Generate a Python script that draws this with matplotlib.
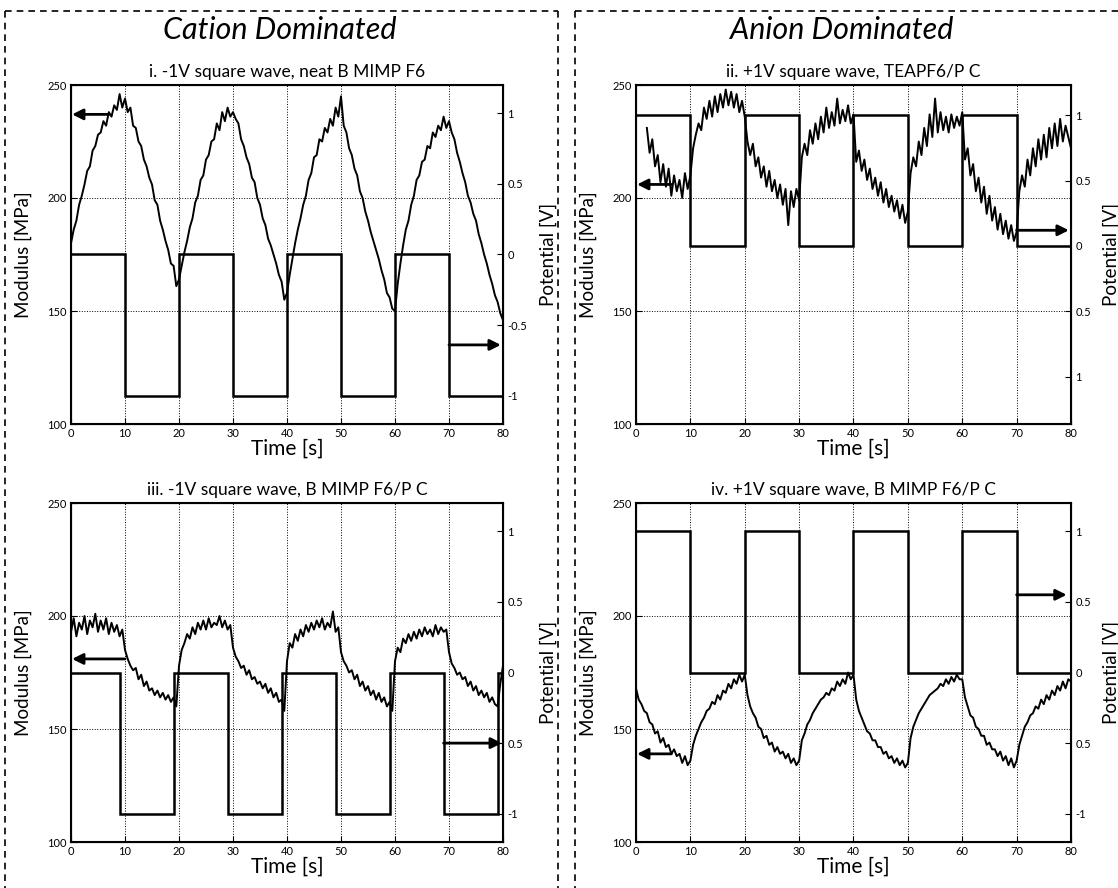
import numpy as np
import matplotlib.pyplot as plt
from matplotlib.lines import Line2D

plt.rcParams['font.family'] = ['Lato', 'DejaVu Sans']
plt.rcParams['axes.unicode_minus'] = False

# sampling grid of the modulus traces [s]
t = np.arange(0, 80.5, 0.5)

# modulus [MPa], every 0.5 s
mod_i = [180, 186, 190, 197, 201, 206, 212, 214, 221, 223, 228, 229, 234, 232, 238, 236, 241, 239, 246, 240,
         244, 238, 240, 232, 231, 225, 223, 217, 214, 209, 206, 199, 197, 190, 186, 181, 177, 171, 170, 161,
         164, 170, 176, 181, 187, 191, 198, 201, 208, 210, 217, 219, 225, 226, 233, 230, 238, 234, 240, 236,
         238, 235, 233, 226, 223, 218, 215, 209, 207, 200, 197, 191, 188, 182, 179, 175, 171, 166, 163, 155,
         158, 166, 173, 180, 186, 191, 197, 201, 208, 211, 218, 219, 226, 225, 231, 229, 235, 232, 240, 236,
         245, 232, 229, 222, 219, 213, 210, 203, 200, 194, 190, 185, 181, 177, 173, 168, 164, 158, 156, 151,
         150, 162, 171, 179, 186, 190, 197, 201, 208, 210, 216, 217, 223, 222, 229, 227, 232, 230, 236, 231,
         234, 229, 226, 220, 216, 211, 207, 201, 198, 193, 190, 184, 180, 175, 171, 166, 162, 157, 154, 149,
         146]

mod_ii = [None, None, None, None, 231, 220, 226, 214, 219, 207, 215, 205, 213, 201, 210, 203, 208, 200, 211, 204,
          210, 222, 228, 233, 230, 240, 235, 243, 236, 245, 238, 246, 240, 248, 241, 247, 240, 246, 238, 243,
          236, 225, 219, 224, 214, 218, 209, 214, 205, 212, 203, 208, 200, 206, 197, 204, 188, 203, 196, 204,
          199, 218, 224, 219, 230, 224, 233, 226, 236, 229, 240, 231, 238, 232, 244, 233, 239, 234, 241, 233,
          237, 216, 221, 212, 217, 208, 213, 204, 209, 201, 207, 198, 204, 196, 201, 194, 199, 191, 197, 189,
          194, 211, 218, 214, 225, 219, 231, 223, 237, 227, 244, 229, 238, 230, 236, 229, 237, 231, 236, 232,
          238, 217, 222, 210, 215, 203, 209, 198, 205, 193, 201, 190, 196, 186, 193, 184, 190, 182, 188, 181,
          185, 203, 210, 205, 217, 210, 222, 214, 226, 217, 228, 218, 231, 222, 233, 223, 235, 225, 232, 227,
          222]

mod_iii = [193, 199, 191, 197, 194, 200, 192, 198, 195, 201, 193, 198, 194, 199, 192, 197, 193, 196, 191, 194,
           185, 181, 178, 176, 177, 172, 174, 169, 171, 167, 168, 165, 167, 164, 166, 163, 165, 162, 164, 160,
           178, 185, 188, 192, 190, 195, 192, 197, 194, 198, 194, 199, 195, 197, 196, 200, 195, 198, 194, 196,
           186, 182, 180, 177, 178, 174, 176, 172, 173, 170, 171, 168, 170, 166, 168, 164, 166, 162, 163, 158,
           180, 188, 186, 192, 189, 194, 191, 196, 193, 197, 194, 198, 195, 199, 194, 197, 195, 202, 193, 195,
           184, 180, 178, 175, 176, 172, 174, 169, 171, 167, 169, 165, 167, 163, 166, 162, 164, 160, 162, 158,
           180, 186, 184, 190, 188, 192, 189, 193, 190, 194, 191, 195, 192, 194, 191, 196, 192, 195, 193, 194,
           184, 179, 177, 174, 175, 172, 173, 169, 171, 167, 169, 165, 167, 164, 166, 162, 164, 161, 160, 170,
           178]

mod_iv = [168, 163, 161, 158, 157, 153, 152, 148, 149, 144, 146, 142, 143, 139, 141, 138, 139, 135, 138, 134,
          136, 143, 147, 150, 153, 155, 158, 159, 162, 161, 165, 163, 167, 166, 170, 168, 172, 170, 174, 171,
          174, 165, 160, 157, 155, 151, 150, 146, 147, 143, 144, 140, 142, 139, 140, 137, 139, 135, 137, 134,
          136, 145, 148, 152, 154, 157, 159, 161, 163, 164, 166, 165, 168, 167, 171, 169, 172, 170, 175, 172,
          174, 163, 158, 155, 152, 149, 148, 145, 145, 142, 142, 139, 140, 137, 138, 135, 137, 134, 136, 133,
          135, 146, 151, 154, 157, 159, 161, 163, 165, 166, 167, 168, 170, 169, 172, 170, 173, 171, 174, 172,
          172, 164, 160, 156, 155, 151, 150, 147, 147, 143, 144, 141, 141, 138, 140, 136, 138, 134, 137, 133,
          136, 143, 147, 151, 153, 156, 157, 160, 159, 163, 161, 165, 163, 167, 165, 169, 167, 171, 168, 172,
          171]

# applied square wave potential [V]: switching times and levels
edges_i = [0, 10, 20, 30, 40, 50, 60, 70, 80]
levels_i = [0, -1, 0, -1, 0, -1, 0, -1]
edges_ii = [0, 10, 20, 30, 40, 50, 60, 70, 80]
levels_ii = [1, 0, 1, 0, 1, 0, 1, 0]
edges_iii = [0, 9, 19, 29, 39, 49, 59, 69, 79, 80]
levels_iii = [0, -1, 0, -1, 0, -1, 0, -1, 0]
edges_iv = [0, 10, 20, 30, 40, 50, 60, 70, 80]
levels_iv = [1, 0, 1, 0, 1, 0, 1, 0]

titles = ['i. -1V square wave, neat B MIMP F6',
          'ii. +1V square wave, TEAPF6/P C',
          'iii. -1V square wave, B MIMP F6/P C',
          'iv. +1V square wave, B MIMP F6/P C']

# right axis tick labels as printed (minus signs lost in the scan)
vticks = [-1, -0.5, 0, 0.5, 1]
vlabels = [['-1', '-0.5', '0', '0.5', '1'],
           ['1', '0.5', '0', '0.5', '1'],
           ['-1', '0.5', '0', '0.5', '1'],
           ['-1', '0.5', '0', '0.5', '1']]
vlims = [(-1.2, 1.2), (-1.36, 1.23), (-1.2, 1.2), (-1.2, 1.2)]

# arrows: (modulus y, tail x) pointing left; (potential y, tail x, head x) pointing right
left_arrows = [(237, 7), (206, 6.5), (181, 10), (139, 6.5)]
right_arrows = [(-0.64, 70, 79.6), (0.12, 70, 79.6), (-0.5, 69, 79.8), (0.55, 70, 79.2)]

mods = [mod_i, mod_ii, mod_iii, mod_iv]
edges = [edges_i, edges_ii, edges_iii, edges_iv]
levels = [levels_i, levels_ii, levels_iii, levels_iv]

W, H = 1118, 888
fig = plt.figure(figsize=(W / 100, H / 100), dpi=100)

# panel boxes in pixels: left, top, right, bottom
boxes = [(71, 85, 503, 424), (636, 85, 1071, 424), (71, 503, 503, 842), (636, 503, 1071, 842)]
# x position (axes fraction) of the right-hand label; right column kept inside the figure
vlabel_x = [1.085, 1.072, 1.085, 1.072]

arrow_kw = dict(arrowstyle='-|>', color='k', lw=2, mutation_scale=16, shrinkA=0, shrinkB=0)

for k in range(4):
    l, tp, r, b = boxes[k]
    ax = fig.add_axes([l / W, 1 - b / H, (r - l) / W, (b - tp) / H])
    ax.plot(t, np.array(mods[k], dtype=float), color='k', lw=1.4)
    ax.set_xlim(0, 80)
    ax.set_ylim(100, 250)
    ax.set_xticks(range(0, 81, 10))
    ax.set_yticks([100, 150, 200, 250])
    ax.grid(True, ls=':', color='k', lw=0.7)
    ax.tick_params(direction='in', labelsize=8, length=4, pad=3)
    for s in ax.spines.values():
        s.set_linewidth(1.5)
    ax.set_xlabel('Time [s]', fontsize=15, labelpad=0)
    ax.set_ylabel('Modulus [MPa]', fontsize=13.5)
    ax.yaxis.set_label_coords(-0.09, 0.5)
    ax.set_title(titles[k], fontsize=12.5, pad=6)

    ax2 = ax.twinx()
    ax2.stairs(levels[k], edges[k], baseline=None, color='k', lw=1.8)
    ax2.set_ylim(*vlims[k])
    ax2.set_yticks(vticks)
    ax2.set_yticklabels(vlabels[k])
    ax2.tick_params(direction='in', labelsize=8, length=4, pad=3)
    ax2.set_ylabel('Potential [V]', fontsize=13.5)
    ax2.yaxis.set_label_coords(vlabel_x[k], 0.5)

    ly, lx = left_arrows[k]
    ax.annotate('', xy=(0.2, ly), xytext=(lx, ly), arrowprops=arrow_kw)
    ry, rx0, rx1 = right_arrows[k]
    ax2.annotate('', xy=(rx1, ry), xytext=(rx0, ry), arrowprops=arrow_kw)

# section headings
fig.text(280 / W, 1 - 30 / H, 'Cation Dominated', fontsize=22, style='italic', ha='center', va='center')
fig.text(842 / W, 1 - 30 / H, 'Anion Dominated', fontsize=22, style='italic', ha='center', va='center')

# dashed boxes round the two halves
dash = dict(transform=fig.transFigure, color='k', lw=1.2, ls=(0, (4, 3)))
for xs, ys in [([5, 558], [11, 11]), ([5, 5], [11, 888]), ([558, 558], [11, 888]),
               ([575, 1118], [11, 11]), ([575, 575], [11, 888])]:
    fig.add_artist(Line2D([x / W for x in xs], [1 - y / H for y in ys], **dash))

plt.savefig('out.png', dpi=100)
